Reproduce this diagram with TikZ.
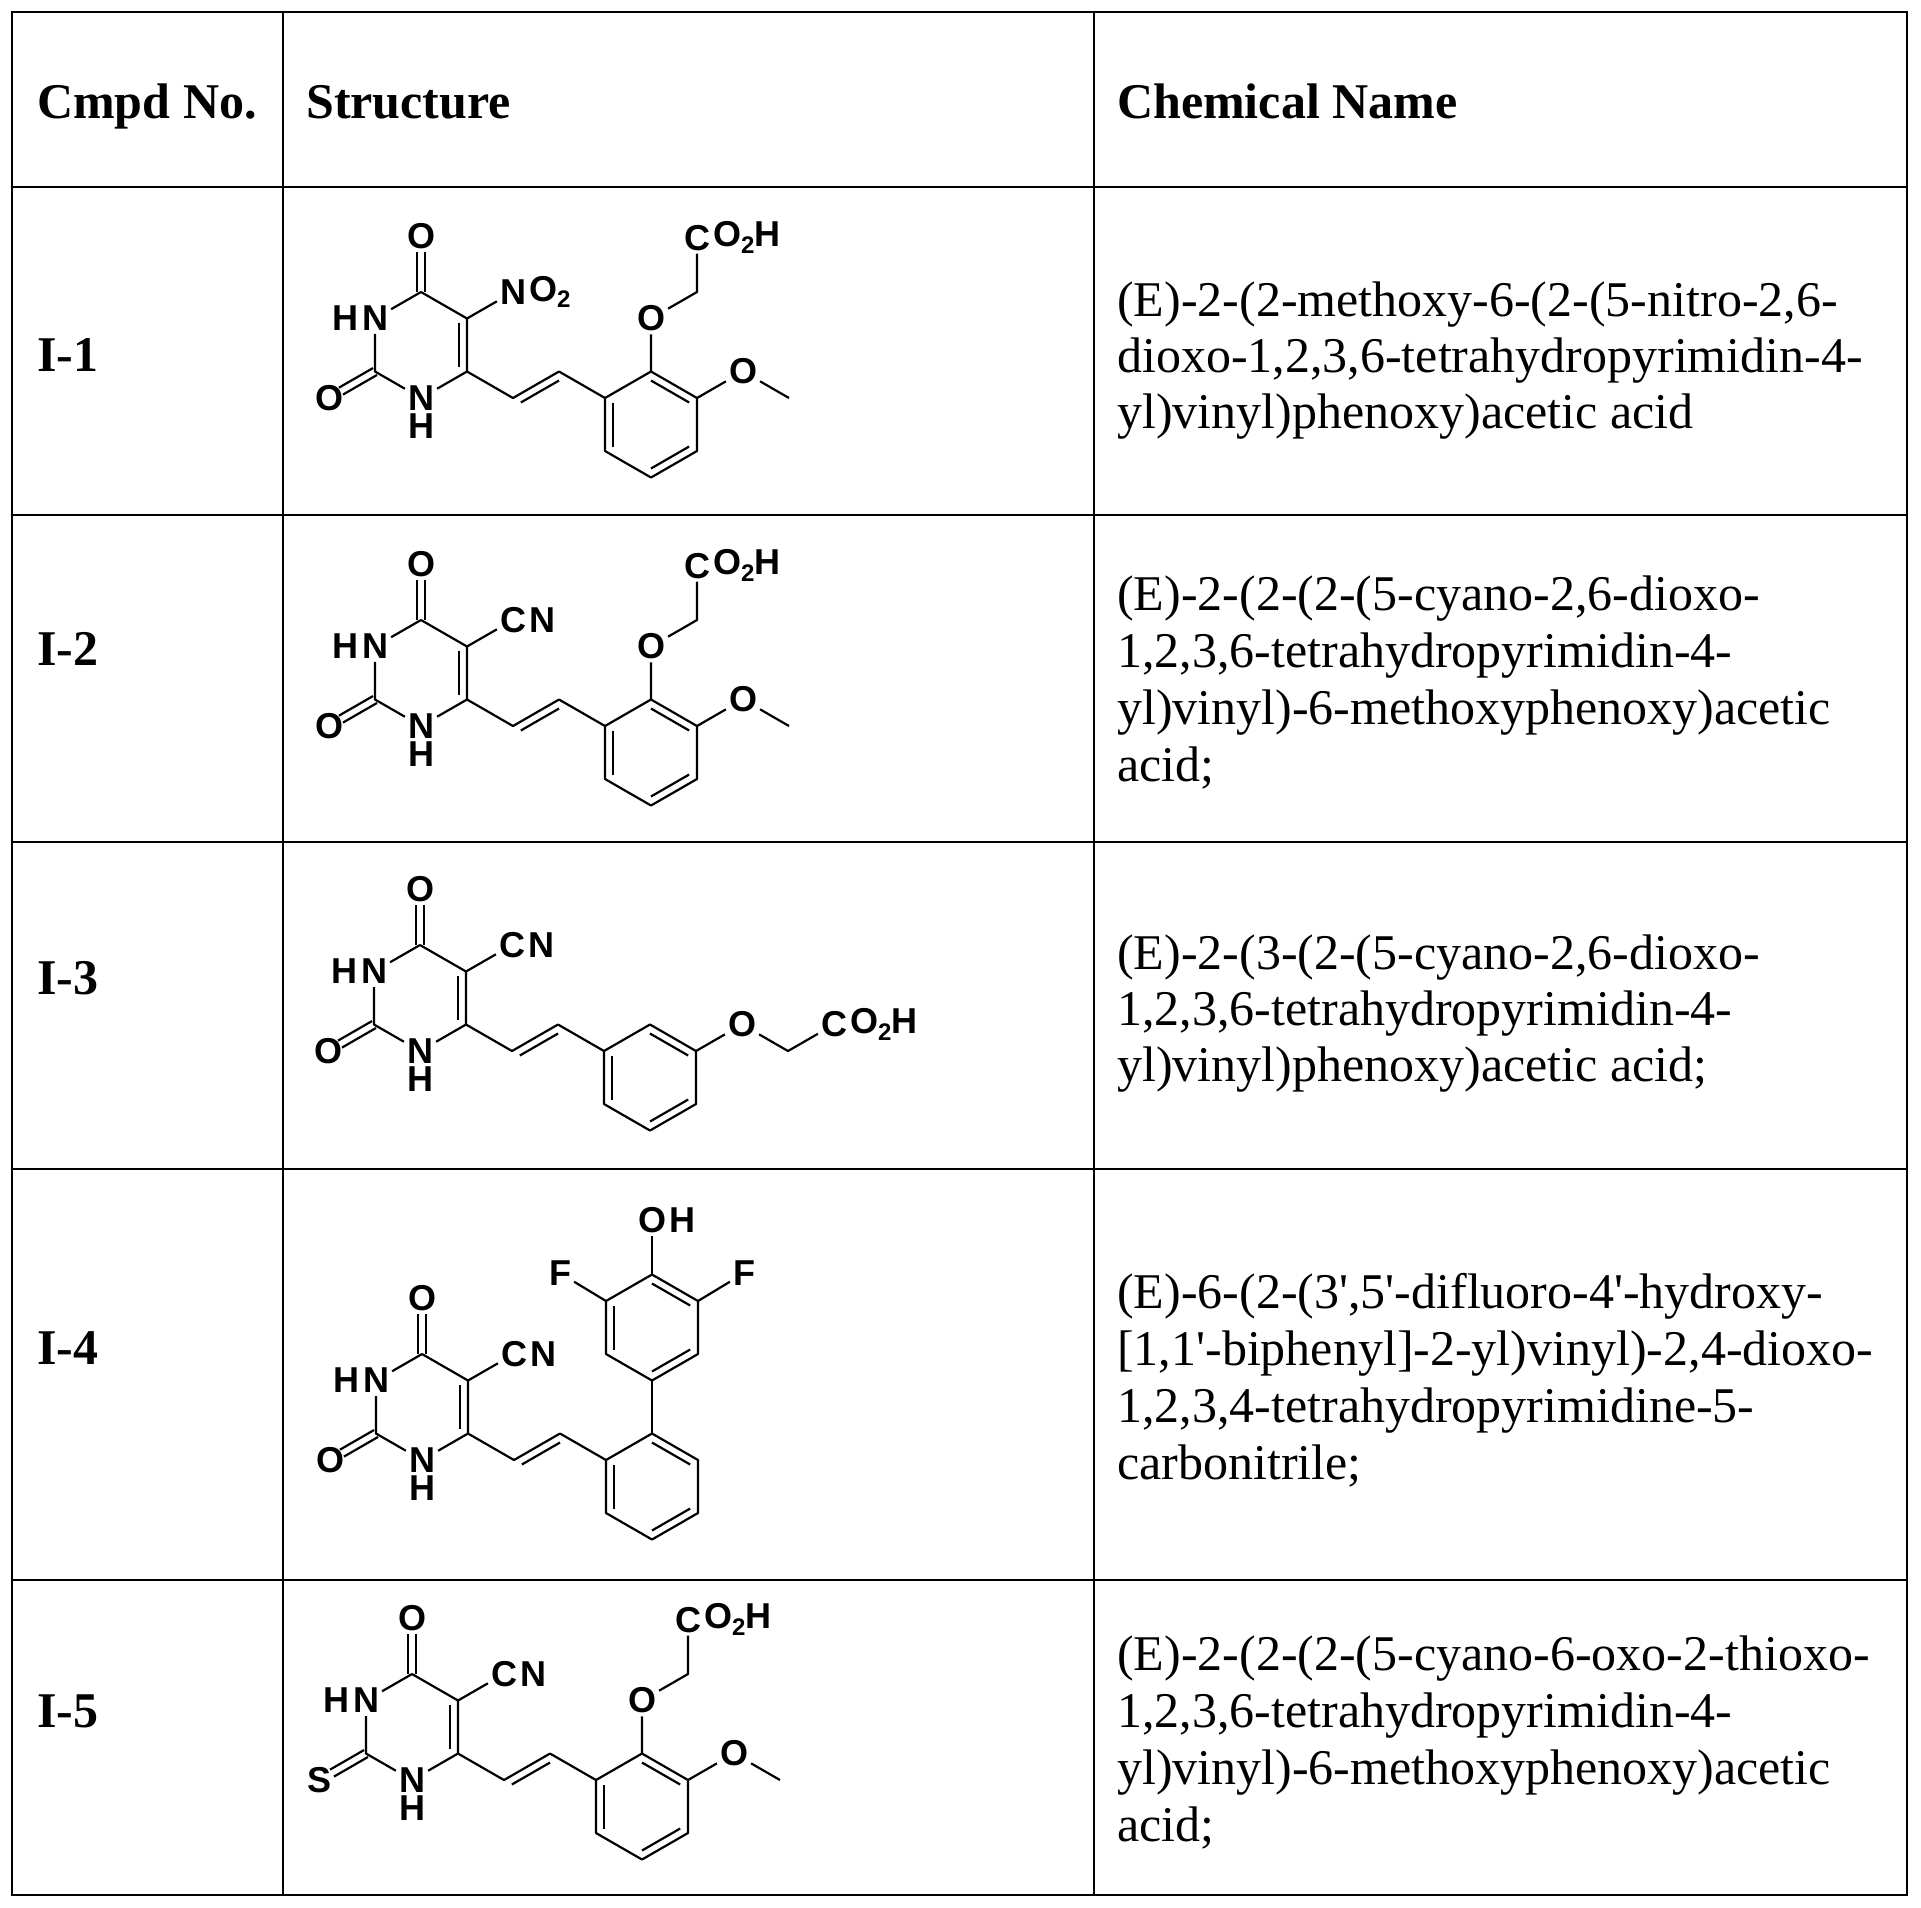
\documentclass[tikz,border=0pt]{standalone}
\usepackage{fontspec}
\setmainfont{Liberation Serif}
\newfontfamily\atomfont{Liberation Sans}
\usetikzlibrary{calc}
\newcommand\subtwo{\raisebox{-0.35ex}{\fontsize{24}{24}\selectfont 2}}
\newcommand\din[3]{\draw ($(#1)!0.17!(#3)$) -- ($(#2)!0.17!(#3)$);}
\newcommand\dbo[3]{%
  \coordinate (#1#2t) at ($(#1)!#3!(#2)$);
  \draw ($(#1)!4pt!90:(#2)$) -- ($(#1#2t)!4pt!-90:(#1)$);
  \draw ($(#1)!4pt!-90:(#2)$) -- ($(#1#2t)!4pt!90:(#1)$);}
% pyrimidine core: prefix, X, substituent first atom, rest
\newcommand\pyr[4]{%
  \coordinate (#1c4) at (0,-2); \coordinate (#1c5) at (1,-1);
  \coordinate (#1c6) at (1,1); \coordinate (#1c2) at (-1,1);
  \coordinate (#1cen) at (0,0);
  \node[atom] (#1n3) at (-1,-1) {N};
  \node[atom,anchor=east,inner sep=0pt] (#1h3) at ([xshift=1pt]#1n3.west) {H};
  \node[atom] (#1n1) at (0,2) {N};
  \node[atom,anchor=north,inner sep=0pt] (#1h1) at ([yshift=1pt]#1n1.south) {H};
  \node[atom] (#1o4) at (0,-4.1) {O};
  \node[atom] (#1x2) at (-2,2) {#2};
  \node[atom] (#1s5) at (2,-2) {#3};
  \node[atom,anchor=west,inner sep=0pt] (#1s5r) at ([xshift=-1pt]#1s5.east) {#4};
  \coordinate (#1va) at (2,2); \coordinate (#1vb) at (3,1); \coordinate (#1vc) at (3,3);
  \draw (#1c4) -- (#1c5) -- (#1c6) -- (#1n1);
  \draw (#1n1) -- (#1c2) -- (#1n3) -- (#1c4);
  \draw (#1c5) -- (#1s5);
  \draw (#1c6) -- (#1va) -- (#1vb);
  \din{#1c5}{#1c6}{#1cen}
  \din{#1va}{#1vb}{#1vc}
  \dbo{#1c4}{#1o4}{0.72}
  \dbo{#1c2}{#1x2}{0.74}}
\newcommand\benz[3]{%
  \coordinate (#1cen) at (#2,#3);
  \coordinate (#1a) at (#2,#3-2); \coordinate (#1b) at (#2+1,#3-1);
  \coordinate (#1c) at (#2+1,#3+1); \coordinate (#1d) at (#2,#3+2);
  \coordinate (#1e) at (#2-1,#3+1); \coordinate (#1f) at (#2-1,#3-1);
  \draw (#1a) -- (#1b) -- (#1c) -- (#1d) -- (#1e) -- (#1f) -- cycle;
  \din{#1a}{#1b}{#1cen}\din{#1c}{#1d}{#1cen}\din{#1e}{#1f}{#1cen}}
% methoxy-phenoxyacetic acid part
\newcommand\mpa[1]{%
  \benz{#1B}{5}{3}
  \draw (#1vb) -- (#1Bf);
  \node[atom] (#1oa) at (5,-1) {O};
  \coordinate (#1ch) at (6,-2);
  \node[atom] (#1co) at (6,-4.05) {C};
  \node[atom,anchor=west,inner sep=0pt] (#1cor) at ([xshift=-1pt]#1co.east) {O\subtwo H};
  \draw (#1Ba) -- (#1oa) -- (#1ch) -- (#1co);
  \node[atom] (#1om) at (7,1) {O};
  \coordinate (#1me) at (8,2);
  \draw (#1Bb) -- (#1om) -- (#1me);}
\tikzset{
  atom/.style={font=\atomfont\bfseries\fontsize{36}{36}\selectfont, inner sep=2pt},
  mol/.style={line width=2.2pt, line join=round},
  body/.style={font=\fontsize{50}{56}\selectfont, inner sep=0pt, anchor=base west},
  head/.style={font=\bfseries\fontsize{50}{56}\selectfont, inner sep=0pt, anchor=base west},
  grid/.style={line width=2.4pt}
}
\begin{document}
\begin{tikzpicture}[x=1pt,y=-1pt]
\useasboundingbox (0,0) rectangle (1921,1907);
% table
\draw[grid] (12,12) rectangle (1907,1895);
\foreach \yy [count=\k] in {187,515,842,1169,1580} \draw[grid] (12,\yy) coordinate (rl\k) -- (1907,\yy) coordinate (rr\k);
\draw[grid] (283,12) coordinate (ct1) -- (283,1895) coordinate (cb1);
\draw[grid] (1094,12) coordinate (ct2) -- (1094,1895) coordinate (cb2);
% headers
\node[head] (h1) at (37,118) {Cmpd No.};
\node[head] (h2) at (306,118) {Structure};
\node[head] (h3) at (1117,118) {Chemical Name};
% row labels
\node[head] (r1) at (37,371) {I-1};
\node[head] (r2) at (37,665) {I-2};
\node[head] (r3) at (37,994) {I-3};
\node[head] (r4) at (37,1364) {I-4};
\node[head] (r5) at (37,1727) {I-5};
% names
\foreach \t [count=\i] in {{(E)-2-(2-methoxy-6-(2-(5-nitro-2,6-},{dioxo-1,2,3,6-tetrahydropyrimidin-4-},{yl)vinyl)phenoxy)acetic acid}}
  \node[body] (na\i) at (1117,{300+16+(\i-1)*56}) {\t};
\foreach \t [count=\i] in {{(E)-2-(2-(2-(5-cyano-2,6-dioxo-},{1,2,3,6-tetrahydropyrimidin-4-},{yl)vinyl)-6-methoxyphenoxy)acetic},{acid;}}
  \node[body] (nb\i) at (1117,{594+16+(\i-1)*57}) {\t};
\foreach \t [count=\i] in {{(E)-2-(3-(2-(5-cyano-2,6-dioxo-},{1,2,3,6-tetrahydropyrimidin-4-},{yl)vinyl)phenoxy)acetic acid;}}
  \node[body] (nc\i) at (1117,{953+16+(\i-1)*56}) {\t};
\foreach \t [count=\i] in {{(E)-6-(2-(3\textquotesingle,5\textquotesingle-difluoro-4\textquotesingle-hydroxy-},{[1,1\textquotesingle-biphenyl]-2-yl)vinyl)-2,4-dioxo-},{1,2,3,4-tetrahydropyrimidine-5-},{carbonitrile;}}
  \node[body] (nd\i) at (1117,{1292+16+(\i-1)*57}) {\t};
\foreach \t [count=\i] in {{(E)-2-(2-(2-(5-cyano-6-oxo-2-thioxo-},{1,2,3,6-tetrahydropyrimidin-4-},{yl)vinyl)-6-methoxyphenoxy)acetic},{acid;}}
  \node[body] (ne\i) at (1117,{1654+16+(\i-1)*57}) {\t};
% I-1
\begin{scope}[mol, xshift=421pt, yshift=-345pt, x=46pt, y=-26.5pt]
  \pyr{a}{O}{N}{O\subtwo}
  \mpa{a}
\end{scope}
% I-2
\begin{scope}[mol, xshift=421pt, yshift=-673pt, x=46pt, y=-26.5pt]
  \pyr{b}{O}{C}{N}
  \mpa{b}
\end{scope}
% I-3
\begin{scope}[mol, xshift=420pt, yshift=-998pt, x=46pt, y=-26.5pt]
  \pyr{c}{O}{C}{N}
  \benz{cB}{5}{3}
  \draw (cvb) -- (cBf);
  \node[atom] (coa) at (7,1) {O};
  \coordinate (cch) at (8,2);
  \node[atom] (cco) at (9,1) {C};
  \node[atom,anchor=west,inner sep=0pt] (ccor) at ([xshift=-1pt]cco.east) {O\subtwo H};
  \draw (cBb) -- (coa) -- (cch) -- (cco);
\end{scope}
% I-4
\begin{scope}[mol, xshift=422pt, yshift=-1407pt, x=46pt, y=-26.5pt]
  \pyr{d}{O}{C}{N}
  \benz{dB}{5}{3}
  \benz{dU}{5}{-3}
  \draw (dvb) -- (dBf);
  \draw (dBa) -- (dUd);
  \node[atom] (doh) at (5,-7.05) {O};
  \node[atom,anchor=west,inner sep=0pt] (dohr) at ([xshift=-1pt]doh.east) {H};
  \node[atom] (df1) at (3,-5.05) {F};
  \node[atom] (df2) at (7,-5.05) {F};
  \draw (dUa) -- (doh);
  \draw (dUf) -- (df1);
  \draw (dUb) -- (df2);
\end{scope}
% I-5
\begin{scope}[mol, xshift=412pt, yshift=-1727pt, x=46pt, y=-26.5pt]
  \pyr{e}{S}{C}{N}
  \mpa{e}
\end{scope}
\end{tikzpicture}
\end{document}
